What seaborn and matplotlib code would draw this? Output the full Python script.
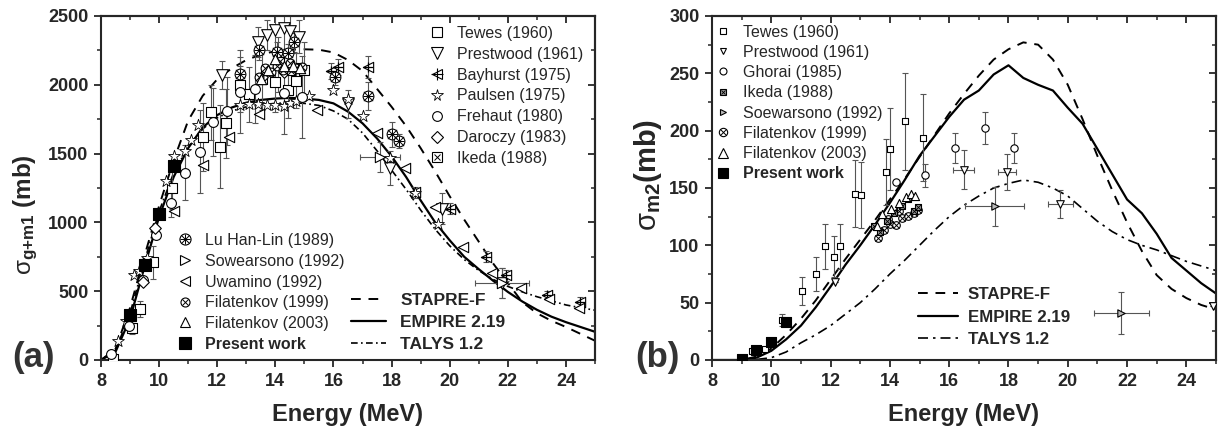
import numpy as np
import pandas as pd
import matplotlib
matplotlib.use('Agg')
import matplotlib.pyplot as plt
import seaborn as sns
from matplotlib.lines import Line2D
from matplotlib.ticker import MultipleLocator

# ---------------- panel (a): sigma g+m1 ----------------
e_grid = [8, 8.5, 9, 9.5, 10, 10.5, 11, 11.5, 12, 12.5, 13, 13.5, 14, 14.5, 15, 15.5, 16, 16.5,
          17, 17.5, 18, 18.5, 19, 19.5, 20, 20.5, 21, 21.5, 22, 22.5, 23, 23.5, 24, 24.5, 25]
a_stapre = [0, 80, 380, 760, 1120, 1450, 1740, 1920, 2040, 2120, 2180, 2220, 2245, 2255, 2258, 2255, 2235, 2180,
            2100, 1970, 1840, 1700, 1540, 1370, 1190, 1020, 860, 700, 560, 420, 340, 285, 240, 190, 140]
a_empire = [0, 60, 300, 680, 1040, 1330, 1540, 1690, 1780, 1835, 1870, 1890, 1900, 1905, 1900, 1890, 1865, 1805,
            1720, 1610, 1480, 1330, 1160, 1000, 870, 750, 660, 575, 495, 425, 365, 315, 275, 240, 205]
a_talys = [0, 70, 340, 720, 1080, 1360, 1550, 1680, 1760, 1810, 1840, 1855, 1865, 1870, 1865, 1850, 1810, 1750,
           1650, 1520, 1380, 1240, 1090, 950, 830, 730, 650, 585, 535, 495, 460, 430, 400, 380, 362]

tewes_a_e = [8.4, 9.05, 9.35, 9.8, 10.45, 11.5, 11.8, 12.1, 12.3, 12.8, 13.1, 13.55, 14.0, 14.1, 14.45, 14.7, 15.0]
tewes_a_s = [10, 230, 370, 710, 1250, 1620, 1800, 1550, 1720, 2000, 1930, 2040, 2020, 2150, 1960, 2030, 2110]
tewes_a_err = [20, 40, 60, 120, 150, 250, 200, 300, 250, 200, 200, 220, 220, 200, 200, 200, 200]

prest_a_e = [12.15, 13.4, 13.7, 14.0, 14.3, 14.5, 14.8, 16.5, 17.95, 19.75, 21.8]
prest_a_s = [2070, 2310, 2360, 2400, 2410, 2390, 2350, 1860, 1395, 1100, 560]
prest_a_err = [100, 110, 110, 150, 150, 150, 120, 100, 125, 115, 110]

bayh_e = [15.9, 16.15, 17.2, 18.8, 20.0, 21.25, 21.95, 23.35, 24.5]
bayh_s = [2100, 2130, 2130, 1220, 1100, 750, 615, 470, 425]
bayh_err = [60, 60, 80, 40, 40, 40, 40, 30, 30]

paul_e = [8.6, 8.85, 9.15, 9.3, 9.6, 10.25, 10.5, 10.9, 11.1, 11.35, 12.8, 13.1, 13.4, 13.7, 14.0, 14.3,
          14.5, 14.7, 15.15, 16.0, 16.5, 17.0, 17.95, 18.8, 19.6]
paul_s = [140, 280, 620, 650, 740, 1300, 1480, 1520, 1600, 1710, 1855, 1860, 1860, 1850, 1850, 1845,
          1870, 1880, 1915, 1960, 1900, 1770, 1470, 1215, 990]

freh_e = [8.35, 8.95, 9.45, 9.9, 10.4, 10.9, 11.4, 11.85, 12.35, 12.8, 13.3, 14.3, 14.9]
freh_s = [40, 250, 580, 910, 1140, 1360, 1515, 1730, 1810, 1950, 1970, 1940, 1910]
freh_err = [0, 0, 0, 0, 100, 200, 300, 250, 250, 300, 250, 300, 300]

daro_e = [9.45, 9.85, 13.55, 14.3]
daro_s = [570, 960, 2060, 2090]

ikeda_a_e = [13.65, 14.15, 14.55, 14.85]
ikeda_a_s = [2110, 2170, 2100, 2130]

lu_e = [12.8, 13.45, 14.05, 14.45, 14.65, 16.05, 17.2, 18.0, 18.25]
lu_s = [2080, 2250, 2240, 2230, 2310, 2060, 1920, 1640, 1590]
lu_err = [60, 70, 70, 70, 70, 60, 100, 90, 50]

sow_a_e = [17.6, 21.8]
sow_a_s = [1475, 557]
sow_a_xerr = [0.68, 0.92]

uwa_e = [10.5, 11.5, 12.4, 13.45, 15.45, 17.5, 18.45, 19.5, 20.45, 21.45, 22.45, 23.4, 24.45]
uwa_s = [1080, 1420, 1620, 1790, 1820, 1650, 1395, 1115, 820, 630, 520, 440, 375]

fil99_a_e = [13.45, 13.65, 13.85, 14.05, 14.25, 14.5, 14.7, 14.9]
fil99_a_s = [2060, 2120, 2090, 2140, 2110, 2160, 2120, 2130]

fil03_a_e = [13.5, 13.75, 14.0, 14.3, 14.6, 14.85]
fil03_a_s = [2040, 2110, 2190, 2140, 2140, 2120]

pres_a_e = [9.0, 9.5, 10.0, 10.5]
pres_a_s = [330, 690, 1060, 1410]

# ---------------- panel (b): sigma m2 ----------------
b_stapre = [0, 0, 0, 3, 10, 22, 36, 52, 70, 88, 105, 122, 140, 158, 177, 196, 215, 232,
            248, 262, 271, 277, 275, 262, 240, 210, 178, 148, 120, 95, 74, 62, 54, 48, 44]
b_empire = [0, 0, 0, 2, 8, 18, 30, 46, 64, 83, 100, 118, 137, 157, 178, 195, 212, 227,
            235, 249, 257, 246, 240, 235, 220, 206, 184, 162, 140, 128, 110, 89, 78, 67, 58]
b_talys = [0, 0, 0, 0.5, 2, 7, 15, 22, 30, 40, 50, 62, 75, 87, 100, 113, 125, 135,
           143, 150, 154, 157, 155, 150, 143, 132, 121, 112, 105, 100, 96, 91, 86, 82, 78]

tewes_b_e = [9.35, 9.8, 10.36, 11.02, 11.52, 11.82, 12.12, 12.31, 12.82, 13.01, 13.86, 14.02, 14.52, 15.11]
tewes_b_s = [8, 10, 35, 60, 75, 99, 90, 99, 145, 144, 164, 184, 208, 194]
tewes_b_err = [0, 0, 5, 12, 15, 20, 18, 20, 29, 29, 29, 36, 42, 38]

prest_b_e = [12.15, 16.49, 17.95, 19.74, 24.9]
prest_b_s = [68, 166, 164, 136, 47]
prest_b_err = [0, 17, 16, 12, 0]
prest_b_xerr = [0, 0.36, 0.3, 0.42, 0]

ghorai_e = [14.22, 15.2, 16.2, 17.22, 18.2]
ghorai_s = [155, 161, 185, 202, 185]
ghorai_err = [0, 10, 13, 14, 13]

ikeda_b_e = [13.45, 13.65, 13.9, 14.15, 14.4, 14.6, 14.8, 14.95]
ikeda_b_s = [117, 112, 121, 128, 134, 140, 130, 133]

sow_b_e = [17.53, 21.8]
sow_b_s = [134, 41]
sow_b_err = [17, 18]
sow_b_xerr = [1.0, 0.93]

fil99_b_e = [13.6, 13.8, 13.95, 14.0, 14.2, 14.3, 14.4, 14.6, 14.8, 14.95]
fil99_b_s = [106, 113, 123, 119, 118, 130, 124, 126, 128, 131]

fil03_b_e = [13.55, 13.75, 14.05, 14.3, 14.55, 14.7, 14.85]
fil03_b_s = [117, 127, 132, 137, 142, 145, 143]

pres_b_e = [9.0, 9.5, 10.0, 10.5]
pres_b_s = [1, 9, 16, 33]

# ---------------- style ----------------
sns.set_style('ticks')
plt.rcParams['font.family'] = ['Liberation Sans', 'DejaVu Sans']
plt.rcParams['mathtext.fontset'] = 'custom'
plt.rcParams['mathtext.rm'] = 'Liberation Sans'
plt.rcParams['mathtext.bf'] = 'Liberation Sans:bold'
plt.rcParams['mathtext.it'] = 'Liberation Sans:italic'

fig = plt.figure(figsize=(12.18, 4.30), dpi=100)
axa = fig.add_axes([101 / 1218, 1 - 360 / 430, 494 / 1218, 344 / 430])
axb = fig.add_axes([712 / 1218, 1 - 360 / 430, 504 / 1218, 344 / 430])

ERR = '#555555'


def errs(ax, e, s, yerr=None, xerr=None):
    ax.errorbar(e, s, yerr=yerr, xerr=xerr, fmt='none', ecolor=ERR, elinewidth=0.8,
                capsize=2.5, capthick=0.8, zorder=2)


def pts(ax, e, s, marker, size, fc='white', ec='black', lw=0.8, z=3):
    if marker in ('x', '+'):
        sns.scatterplot(x=e, y=s, marker=marker, s=size, color=ec, linewidth=lw,
                        ax=ax, zorder=z, legend=False)
    else:
        sns.scatterplot(x=e, y=s, marker=marker, s=size, color=fc, edgecolor=ec,
                        linewidth=lw, ax=ax, zorder=z, legend=False)


def curves(ax, stapre, empire, talys, talys_ls):
    df = pd.DataFrame({'E': e_grid, 'stapre': stapre, 'empire': empire, 'talys': talys})
    sns.lineplot(data=df, x='E', y='talys', ax=ax, color='black', lw=1.2, linestyle=talys_ls, zorder=1)
    sns.lineplot(data=df, x='E', y='stapre', ax=ax, color='black', lw=1.4, linestyle=(0, (5, 4)), zorder=1)
    sns.lineplot(data=df, x='E', y='empire', ax=ax, color='black', lw=1.6, zorder=1)


def H(marker, ms, fc='white', ec='black', mew=0.8):
    return Line2D([], [], ls='none', marker=marker, ms=ms, mfc=fc, mec=ec, mew=mew)


# ---------------- panel (a) drawing ----------------
talys_a_ls = (0, (4, 2, 1, 2))
curves(axa, a_stapre, a_empire, a_talys, talys_a_ls)

errs(axa, tewes_a_e, tewes_a_s, tewes_a_err)
errs(axa, prest_a_e, prest_a_s, prest_a_err)
errs(axa, bayh_e, bayh_s, bayh_err)
errs(axa, freh_e, freh_s, freh_err)
errs(axa, lu_e, lu_s, lu_err)
errs(axa, sow_a_e, sow_a_s, [110, 110], sow_a_xerr)

pts(axa, tewes_a_e, tewes_a_s, 's', 42)
pts(axa, prest_a_e, prest_a_s, 'v', 70)
pts(axa, bayh_e, bayh_s, '<', 55)
pts(axa, bayh_e, bayh_s, '+', 60, lw=0.9)
pts(axa, paul_e, paul_s, '*', 80, lw=0.6)
pts(axa, freh_e, freh_s, 'o', 50)
pts(axa, daro_e, daro_s, 'D', 35)
pts(axa, ikeda_a_e, ikeda_a_s, 's', 40)
pts(axa, ikeda_a_e, ikeda_a_s, 'x', 30, lw=0.7)
pts(axa, lu_e, lu_s, 'o', 60)
pts(axa, lu_e, lu_s, 'x', 45, lw=0.7)
pts(axa, lu_e, lu_s, '+', 55, lw=0.7)
pts(axa, sow_a_e, sow_a_s, '>', 55)
pts(axa, uwa_e, uwa_s, '<', 55)
pts(axa, fil99_a_e, fil99_a_s, 'o', 40)
pts(axa, fil99_a_e, fil99_a_s, 'x', 28, lw=0.7)
pts(axa, fil03_a_e, fil03_a_s, '^', 55)
pts(axa, pres_a_e, pres_a_s, 's', 70, fc='black', z=4)

axa.set_xlim(8, 25)
axa.set_ylim(0, 2500)
axa.yaxis.set_major_locator(MultipleLocator(500))
axa.yaxis.set_minor_locator(MultipleLocator(250))

leg_a1 = axa.legend(
    [H('s', 6.5), H('v', 8), (H('<', 7.5), H('+', 8)), H('*', 8.5, mew=0.6), H('o', 7),
     H('D', 6), (H('s', 6.5), H('x', 5, mew=0.7))],
    ['Tewes (1960)', 'Prestwood (1961)', 'Bayhurst (1975)', 'Paulsen (1975)', 'Frehaut (1980)',
     'Daroczy (1983)', 'Ikeda (1988)'],
    loc='upper left', bbox_to_anchor=((429 - 101) / 494, (360 - 26) / 344), frameon=False,
    fontsize=11.5, handlelength=1.0, handletextpad=0.75, labelspacing=0.365, borderpad=0, borderaxespad=0)
axa.add_artist(leg_a1)

leg_a2 = axa.legend(
    [(H('o', 8), H('x', 6, mew=0.7), H('+', 7, mew=0.7)), H('>', 7.5), H('<', 7.5),
     (H('o', 6.5), H('x', 5, mew=0.7)), H('^', 7.5), H('s', 8, fc='black')],
    ['Lu Han-Lin (1989)', 'Sowearsono (1992)', 'Uwamino (1992)', 'Filatenkov (1999)',
     'Filatenkov (2003)', 'Present work'],
    loc='upper left', bbox_to_anchor=((177 - 101) / 494, (360 - 233) / 344), frameon=False,
    fontsize=11.5, handlelength=1.0, handletextpad=0.75, labelspacing=0.36, borderpad=0, borderaxespad=0)
leg_a2.get_texts()[-1].set_fontweight('bold')
axa.add_artist(leg_a2)

leg_a3 = axa.legend(
    [Line2D([], [], color='k', lw=1.4, ls=(0, (5, 4))), Line2D([], [], color='k', lw=1.6),
     Line2D([], [], color='k', lw=1.2, ls=talys_a_ls)],
    ['STAPRE-F', 'EMPIRE 2.19', 'TALYS 1.2'],
    loc='upper left', bbox_to_anchor=((351 - 101) / 494, (360 - 293) / 344), frameon=False,
    fontsize=12.5, handlelength=2.0, handletextpad=0.85, labelspacing=0.4, borderpad=0, borderaxespad=0)
for t in leg_a3.get_texts():
    t.set_fontweight('bold')

axa.set_ylabel(r'$\mathrm{\sigma}_{\mathbf{g{+}m1}}\ \mathbf{(mb)}$', fontsize=17.5)
axa.yaxis.set_label_coords((40 - 101) / 494, (360 - 215) / 344)

# ---------------- panel (b) drawing ----------------
talys_b_ls = (0, (6, 3, 1.5, 3))
curves(axb, b_stapre, b_empire, b_talys, talys_b_ls)

errs(axb, tewes_b_e, tewes_b_s, tewes_b_err)
errs(axb, prest_b_e, prest_b_s, prest_b_err, prest_b_xerr)
errs(axb, ghorai_e, ghorai_s, ghorai_err)
errs(axb, sow_b_e, sow_b_s, sow_b_err, sow_b_xerr)

pts(axb, tewes_b_e, tewes_b_s, 's', 22)
pts(axb, prest_b_e, prest_b_s, 'v', 30)
pts(axb, ghorai_e, ghorai_s, 'o', 28)
pts(axb, fil99_b_e, fil99_b_s, 'o', 30)
pts(axb, fil99_b_e, fil99_b_s, 'x', 20, lw=0.7)
pts(axb, ikeda_b_e, ikeda_b_s, 's', 20, fc='#999999')
pts(axb, ikeda_b_e, ikeda_b_s, 'x', 14, lw=0.6)
pts(axb, fil03_b_e, fil03_b_s, '^', 34)
pts(axb, sow_b_e, sow_b_s, '>', 28, fc='#bbbbbb')
pts(axb, pres_b_e, pres_b_s, 's', 42, fc='black', z=4)

axb.set_xlim(8, 25)
axb.set_ylim(0, 300)
axb.yaxis.set_major_locator(MultipleLocator(50))
axb.yaxis.set_minor_locator(MultipleLocator(25))

leg_b1 = axb.legend(
    [H('s', 4.5), H('v', 5), H('o', 5), (H('s', 4.5, fc='#999999'), H('x', 3.5, mew=0.6)),
     H('>', 5, fc='#bbbbbb'), (H('o', 6), H('x', 4.5, mew=0.7)), H('^', 6.5), H('s', 7.5, fc='black')],
    ['Tewes (1960)', 'Prestwood (1961)', 'Ghorai (1985)', 'Ikeda (1988)', 'Soewarsono (1992)',
     'Filatenkov (1999)', 'Filatenkov (2003)', 'Present work'],
    loc='upper left', bbox_to_anchor=((715 - 712) / 504, (360 - 24.5) / 344), frameon=False,
    fontsize=11.5, handlelength=1.0, handletextpad=0.75, labelspacing=0.33, borderpad=0, borderaxespad=0)
leg_b1.get_texts()[-1].set_fontweight('bold')
axb.add_artist(leg_b1)

leg_b2 = axb.legend(
    [Line2D([], [], color='k', lw=1.4, ls=(0, (5, 4))), Line2D([], [], color='k', lw=1.6),
     Line2D([], [], color='k', lw=1.2, ls=talys_b_ls)],
    ['STAPRE-F', 'EMPIRE 2.19', 'TALYS 1.2'],
    loc='upper left', bbox_to_anchor=((918 - 712) / 504, (360 - 287) / 344), frameon=False,
    fontsize=12.2, handlelength=2.35, handletextpad=0.6, labelspacing=0.45, borderpad=0, borderaxespad=0)
for t in leg_b2.get_texts():
    t.set_fontweight('bold')

axb.set_ylabel(r'$\mathrm{\sigma}_{\mathbf{m2}}\mathbf{(mb)}$', fontsize=21)
axb.yaxis.set_label_coords((664 - 712) / 504, (360 - 175) / 344)

# ---------------- common axes styling ----------------
for ax in (axa, axb):
    ax.xaxis.set_major_locator(MultipleLocator(2))
    ax.xaxis.set_minor_locator(MultipleLocator(1))
    ax.set_xlabel('Energy (MeV)', fontsize=17, fontweight='bold', labelpad=10)
    for sp in ax.spines.values():
        sp.set_linewidth(1.5)
        sp.set_visible(True)
    ax.tick_params(which='major', direction='out', length=5, width=1.3, labelsize=13, pad=4)
    ax.tick_params(which='minor', direction='out', length=3, width=1.1)
    for lab in ax.get_xticklabels() + ax.get_yticklabels():
        lab.set_fontweight('bold')
    top = ax.secondary_xaxis('top')
    top.xaxis.set_major_locator(MultipleLocator(2))
    top.xaxis.set_minor_locator(MultipleLocator(1))
    top.tick_params(which='major', direction='in', length=5, width=1.3, labeltop=False)
    top.tick_params(which='minor', direction='in', length=3, width=1.1)
    top.spines['top'].set_linewidth(1.5)
    right = ax.secondary_yaxis('right')
    right.yaxis.set_major_locator(ax.yaxis.get_major_locator())
    right.yaxis.set_minor_locator(ax.yaxis.get_minor_locator())
    right.tick_params(which='major', direction='in', length=5, width=1.3, labelright=False)
    right.tick_params(which='minor', direction='in', length=3, width=1.1)
    right.spines['right'].set_linewidth(1.5)

fig.text(12 / 1218, 1 - 367 / 430, '(a)', fontsize=25, fontweight='bold', color='#333333', va='baseline')
fig.text(635 / 1218, 1 - 367 / 430, '(b)', fontsize=25, fontweight='bold', color='#333333', va='baseline')

fig.savefig('out.png', dpi=100)
